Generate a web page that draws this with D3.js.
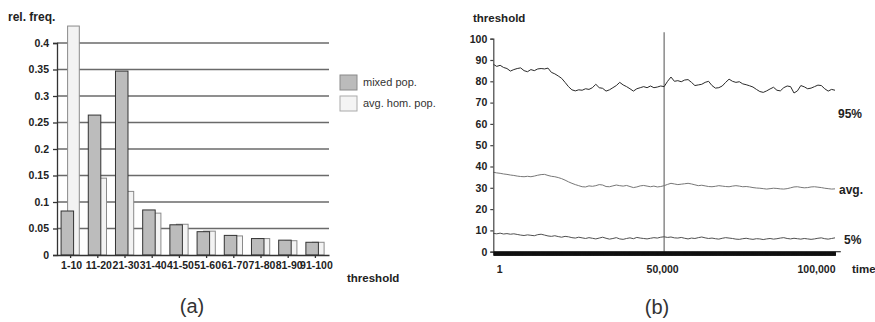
<!DOCTYPE html>
<html lang="en">
	<head>
		<meta charset="utf-8">
		<title>D3: threshold distributions</title>
		<script type="text/javascript" src="https://d3js.org/d3.v7.min.js"></script>
		<style type="text/css">
			body { margin: 0; background: #fff; }
			text { font-family: "Liberation Sans", Arial, sans-serif; fill: #222; }
		</style>
	</head>
	<body>

		<div id="chart"></div>

		<script type="text/javascript">

		// (a) relative frequency of thresholds
		var categories = ["1-10", "11-20", "21-30", "31-40", "41-50", "51-60", "61-70", "71-80", "81-90", "91-100"];
		var mixedPop = [0.083, 0.264, 0.347, 0.085, 0.057, 0.044, 0.037, 0.031, 0.028, 0.024];
		var homPop = [0.432, 0.145, 0.120, 0.079, 0.058, 0.045, 0.036, 0.031, 0.027, 0.024];
		var freqTicks = [0, 0.05, 0.1, 0.15, 0.2, 0.25, 0.3, 0.35, 0.4];

		// (b) threshold over time, one reading every 1000 steps
		var sampleStep = 1000;
		var p95 = [88, 87, 87.5, 86.5, 86, 84.8, 85.5, 86, 86.3, 85, 84.5, 85.5, 85, 85.8, 86, 85.8, 86.2, 84.2, 83.5, 82.5,
			81.4, 79.5, 77.5, 76, 75.5, 76, 75.8, 76.5, 76.2, 77, 78.6, 77, 76.7, 75.4, 76, 77, 78, 79.5, 78.3, 77.5,
			76.5, 75.4, 76.5, 77, 77.5, 77, 77.8, 77, 77.3, 77.8, 77.5, 80, 82, 80, 80.3, 79.8, 80.6, 80.8, 79.5, 78,
			78.3, 78.6, 79.5, 80, 78, 76.8, 77, 77.8, 79.5, 81, 80, 79.5, 79.8, 78.8, 78.4, 77.9, 77.3, 76.2, 75.2, 74.8,
			75.5, 76.4, 77.2, 75.8, 75.5, 77, 77.8, 77.5, 74.5, 75.5, 78, 77.4, 76.5, 76.8, 77.5, 78.2, 78, 76.5, 75.4, 76.2, 75.8];
		var avgThr = [37.3, 37, 36.8, 36.5, 36.3, 36, 35.8, 35.5, 35.3, 35.2, 35.4, 35.2, 35.5, 35.9, 36.2, 36.3, 35.8, 35.4, 35.2, 34.8,
			34.3, 33.6, 32.8, 32.1, 31.5, 31, 30.5, 30.4, 30.9, 30.7, 31, 31.5, 31.3, 30.6, 30.5, 30.9, 31.3, 31, 30.8, 31.1,
			30.6, 30.1, 30.4, 30.9, 31.1, 30.8, 30.5, 30.8, 30.4, 30.6, 31, 31.6, 32.1, 31.8, 31.5, 31.7, 31.9, 32.1, 31.8, 31.4,
			31, 31.2, 30.9, 30.6, 30.5, 30.7, 31, 30.8, 30.6, 30.5, 30.8, 31, 30.8, 30.5, 30.6, 30.4, 30.1, 29.9, 29.8, 29.6,
			29.4, 29.6, 29.8, 29.7, 29.5, 29.4, 29.6, 30, 30.4, 30.5, 30.2, 30, 30.1, 30.4, 30.5, 30.3, 30.1, 29.8, 29.6, 29.4, 29.5];
		var p5 = [8.6, 8.4, 8.7, 8.3, 8.5, 8.2, 8.4, 8.1, 7.8, 7.6, 7.9, 7.7, 7.5, 8, 8.2, 7.8, 7.4, 7.2, 7.5, 7.1,
			6.8, 7.2, 7, 6.6, 6.4, 6.8, 6.5, 6.2, 6.6, 6.3, 6, 6.4, 6.8, 6.3, 5.9, 6.2, 6.6, 6, 5.8, 6.2,
			6.5, 6.1, 6.7, 6.4, 6.2, 6, 6.3, 6.6, 6.4, 6.8, 7, 6.7, 6.9, 6.5, 6.4, 6.7, 6.3, 6, 6.4, 6.2,
			6.6, 6.9, 6.5, 6.2, 6.4, 6.1, 5.9, 6.3, 6.6, 6.4, 6.2, 5.9, 5.8, 6.1, 6.3, 6, 5.8, 6.1, 6, 5.7,
			6, 6.2, 5.9, 6.1, 6.4, 6.6, 6.2, 6, 6.3, 6.1, 5.9, 6.2, 6, 5.8, 6, 6.3, 6.5, 6.1, 5.9, 6.2, 6.5];
		var thrTicks = [0, 10, 20, 30, 40, 50, 60, 70, 80, 90, 100];
		var timeTicks = [1, 50000, 100000];
		var timeTickLabels = ["1", "50,000", "100,000"];
		var seriesNames = ["95%", "avg.", "5%"];

		var w = 875;
		var h = 322;

		var svg = d3.select("#chart")
			.append("svg")
			.attr("width", w)
			.attr("height", h);

		// ---------- panel (a) ----------
		var xBand = d3.scaleBand()
			.domain(categories)
			.range([57, 329]);

		var yFreq = d3.scaleLinear()
			.domain([0, 0.4])
			.range([255, 43]);

		var bw = xBand.bandwidth();

		svg.append("g")
			.selectAll("line")
			.data(freqTicks.slice(1))
			.enter()
			.append("line")
			.attr("x1", 57)
			.attr("x2", 329)
			.attr("y1", function(d){ return yFreq(d); })
			.attr("y2", function(d){ return yFreq(d); })
			.style("stroke", "#6a6a6a")
			.style("stroke-width", 1.4);

		svg.append("g")
			.selectAll("rect")
			.data(homPop)
			.enter()
			.append("rect")
			.attr("x", function(d, i){ return xBand(categories[i]) + bw * 0.39; })
			.attr("width", bw * 0.43)
			.attr("y", function(d){ return yFreq(d); })
			.attr("height", function(d){ return yFreq(0) - yFreq(d); })
			.style("fill", "#f3f3f3")
			.style("stroke", "#8a8a8a")
			.style("stroke-width", 1);

		svg.append("g")
			.selectAll("rect")
			.data(mixedPop)
			.enter()
			.append("rect")
			.attr("x", function(d, i){ return xBand(categories[i]) + bw * 0.15; })
			.attr("width", bw * 0.46)
			.attr("y", function(d){ return yFreq(d); })
			.attr("height", function(d){ return yFreq(0) - yFreq(d); })
			.style("fill", "#bcbcbc")
			.style("stroke", "#333")
			.style("stroke-width", 1);

		var yFreqAxis = d3.axisLeft(yFreq)
			.tickValues(freqTicks)
			.tickSize(4)
			.tickPadding(4)
			.tickFormat(function(d){ return String(d); });

		var gy = svg.append("g")
			.attr("transform", "translate(57,0)")
			.call(yFreqAxis);

		var xCatAxis = d3.axisBottom(xBand)
			.tickSize(3)
			.tickPadding(4)
			.tickSizeOuter(0);

		var gx = svg.append("g")
			.attr("transform", "translate(0,255)")
			.call(xCatAxis);

		[gy, gx].forEach(function(g){
			g.selectAll("path, line").style("stroke", "#333").style("stroke-width", 1.3);
			g.selectAll("text")
				.style("font-family", "'Liberation Sans', Arial, sans-serif")
				.style("font-size", "10.5px")
				.style("font-weight", "bold")
				.style("fill", "#222");
		});
		gx.selectAll("text").attr("dx", "1");

		svg.append("text")
			.attr("x", 8)
			.attr("y", 21)
			.style("font-size", "12px")
			.style("font-weight", "bold")
			.text("rel. freq.");

		svg.append("text")
			.attr("x", 347)
			.attr("y", 282)
			.style("font-size", "11.5px")
			.style("font-weight", "bold")
			.text("threshold");

		// legend
		var legendNames = ["mixed pop.", "avg. hom. pop."];
		var legendFill = ["#bbbbbb", "#f4f4f4"];
		var legendStroke = ["#8a8a8a", "#aaaaaa"];
		var legend = svg.append("g")
			.selectAll("g")
			.data(legendNames)
			.enter()
			.append("g")
			.attr("transform", function(d, i){ return "translate(340," + (75 + i * 21) + ")"; });

		legend.append("rect")
			.attr("width", 17)
			.attr("height", 15)
			.style("fill", function(d, i){ return legendFill[i]; })
			.style("stroke", function(d, i){ return legendStroke[i]; });

		legend.append("text")
			.attr("x", 23)
			.attr("y", 11)
			.style("font-size", "11px")
			.style("fill", "#333")
			.text(function(d){ return d; });

		svg.append("text")
			.attr("x", 192)
			.attr("y", 313)
			.attr("text-anchor", "middle")
			.style("font-size", "20px")
			.style("fill", "#333")
			.text("(a)");

		// ---------- panel (b) ----------
		var xTime = d3.scaleLinear()
			.domain([0, 100000])
			.range([493.3, 835]);

		var yThr = d3.scaleLinear()
			.domain([0, 100])
			.range([251.7, 38.7]);

		// vertical marker at 50,000
		svg.append("line")
			.attr("x1", xTime(50000))
			.attr("x2", xTime(50000))
			.attr("y1", yThr(103))
			.attr("y2", yThr(0))
			.style("stroke", "#8a8a8a")
			.style("stroke-width", 1.5);

		var seriesData = [p95, avgThr, p5];
		var seriesColor = ["#2a2a2a", "#777777", "#505050"];
		var seriesLabelY = [62.7, 27.1, 3.6];
		var seriesLabelX = [838, 839, 844];

		var line = d3.line()
			.x(function(d, i){ return xTime(i * sampleStep); })
			.y(function(d){ return yThr(d); });

		svg.append("g")
			.selectAll("path")
			.data(seriesData)
			.enter()
			.append("path")
			.attr("d", line)
			.style("fill", "none")
			.style("stroke", function(d, i){ return seriesColor[i]; })
			.style("stroke-width", 1);

		svg.append("g")
			.selectAll("text")
			.data(seriesNames)
			.enter()
			.append("text")
			.attr("x", function(d, i){ return seriesLabelX[i]; })
			.attr("y", function(d, i){ return yThr(seriesLabelY[i]); })
			.style("font-size", "12px")
			.style("font-weight", "bold")
			.text(function(d){ return d; });

		var yThrAxis = d3.axisLeft(yThr)
			.tickValues(thrTicks)
			.tickSize(3)
			.tickPadding(3);

		var gy2 = svg.append("g")
			.attr("transform", "translate(493.3,0)")
			.call(yThrAxis);

		// dense time ticks along the bottom
		var xTimeAxis = d3.axisBottom(xTime)
			.tickValues(d3.range(0, 100001, 100))
			.tickSize(4)
			.tickSizeOuter(0)
			.tickFormat("");

		var gx2 = svg.append("g")
			.attr("transform", "translate(0,251.7)")
			.call(xTimeAxis);
		gx2.selectAll("line").style("stroke", "#111").style("stroke-width", 1);
		gx2.select(".domain").style("stroke", "#111").style("stroke-width", 1.5);

		svg.append("line")
			.attr("x1", xTime(100000))
			.attr("x2", xTime(101700))
			.attr("y1", 251.7)
			.attr("y2", 251.7)
			.style("stroke", "#333")
			.style("stroke-width", 1.2);

		var xLabelAxis = d3.axisBottom(xTime)
			.tickValues(timeTicks)
			.tickSize(0)
			.tickPadding(14)
			.tickFormat(function(d, i){ return timeTickLabels[i]; });

		var gx3 = svg.append("g")
			.attr("transform", "translate(0,251.7)")
			.call(xLabelAxis);
		gx3.select(".domain").remove();
		gx3.selectAll("text")
			.attr("text-anchor", function(d, i){ return i === 0 ? "start" : (i === 2 ? "end" : "middle"); })
			.attr("dx", function(d, i){ return i === 0 ? 3 : (i === 1 ? -2 : 0); });

		[gy2, gx3].forEach(function(g){
			g.selectAll("path, line").style("stroke", "#444").style("stroke-width", 1.2);
			g.selectAll("text")
				.style("font-family", "'Liberation Sans', Arial, sans-serif")
				.style("font-size", "10.5px")
				.style("font-weight", "bold")
				.style("fill", "#222");
		});

		svg.append("text")
			.attr("x", 473)
			.attr("y", 22)
			.style("font-size", "11.5px")
			.style("font-weight", "bold")
			.text("threshold");

		svg.append("text")
			.attr("x", 852)
			.attr("y", 273)
			.style("font-size", "11.5px")
			.style("font-weight", "bold")
			.text("time");

		svg.append("text")
			.attr("x", 657)
			.attr("y", 314)
			.attr("text-anchor", "middle")
			.style("font-size", "20px")
			.style("fill", "#333")
			.text("(b)");

		</script>
	</body>
</html>
